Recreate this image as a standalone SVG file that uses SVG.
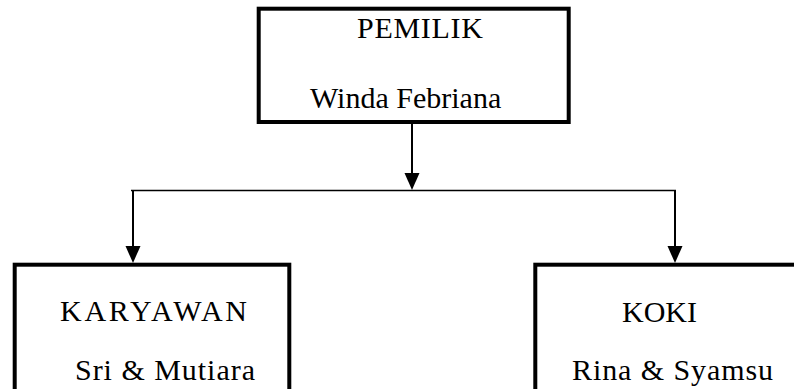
<svg xmlns="http://www.w3.org/2000/svg" width="794" height="389" viewBox="0 0 794 389">
<style>
.box{fill:#fff;stroke:#000;stroke-width:4}
.t{font-family:'Liberation Serif','Times New Roman',serif;font-size:30px;fill:#000}
.ln{stroke:#000;stroke-width:2;fill:none}
.ah{fill:#000}
</style>
<rect width="794" height="389" fill="#fff"/>
<g id="connectors">
<line class="ln" x1="412" y1="124" x2="412" y2="173"/>
<path class="ah" d="M404.5,173 L419.5,173 L412,190 Z"/>
<line x1="131" y1="190.5" x2="676" y2="190.5" stroke="#000" stroke-width="1.5"/>
<line class="ln" x1="133" y1="190" x2="133" y2="246"/>
<path class="ah" d="M125.5,246 L140.5,246 L133,263 Z"/>
<line class="ln" x1="675" y1="190" x2="675" y2="246"/>
<path class="ah" d="M667.5,246 L682.5,246 L675,263 Z"/>
</g>
<g id="pemilik">
<rect class="box" x="258.7" y="8.7" width="310" height="113.3"/>
<text class="t" x="357" y="38" textLength="126" lengthAdjust="spacing">PEMILIK</text>
<text class="t" x="310" y="108">Winda Febriana</text>
</g>
<g id="karyawan">
<rect class="box" x="14.7" y="264.7" width="274.6" height="140"/>
<text class="t" x="60" y="321" textLength="187" lengthAdjust="spacing">KARYAWAN</text>
<text class="t" x="75" y="380" textLength="180" lengthAdjust="spacing">Sri &amp; Mutiara</text>
</g>
<g id="koki">
<rect class="box" x="535.3" y="264.7" width="280" height="140"/>
<text class="t" x="622" y="322" textLength="75" lengthAdjust="spacing">KOKI</text>
<text class="t" x="572" y="380" textLength="201" lengthAdjust="spacing">Rina &amp; Syamsu</text>
</g>
</svg>
